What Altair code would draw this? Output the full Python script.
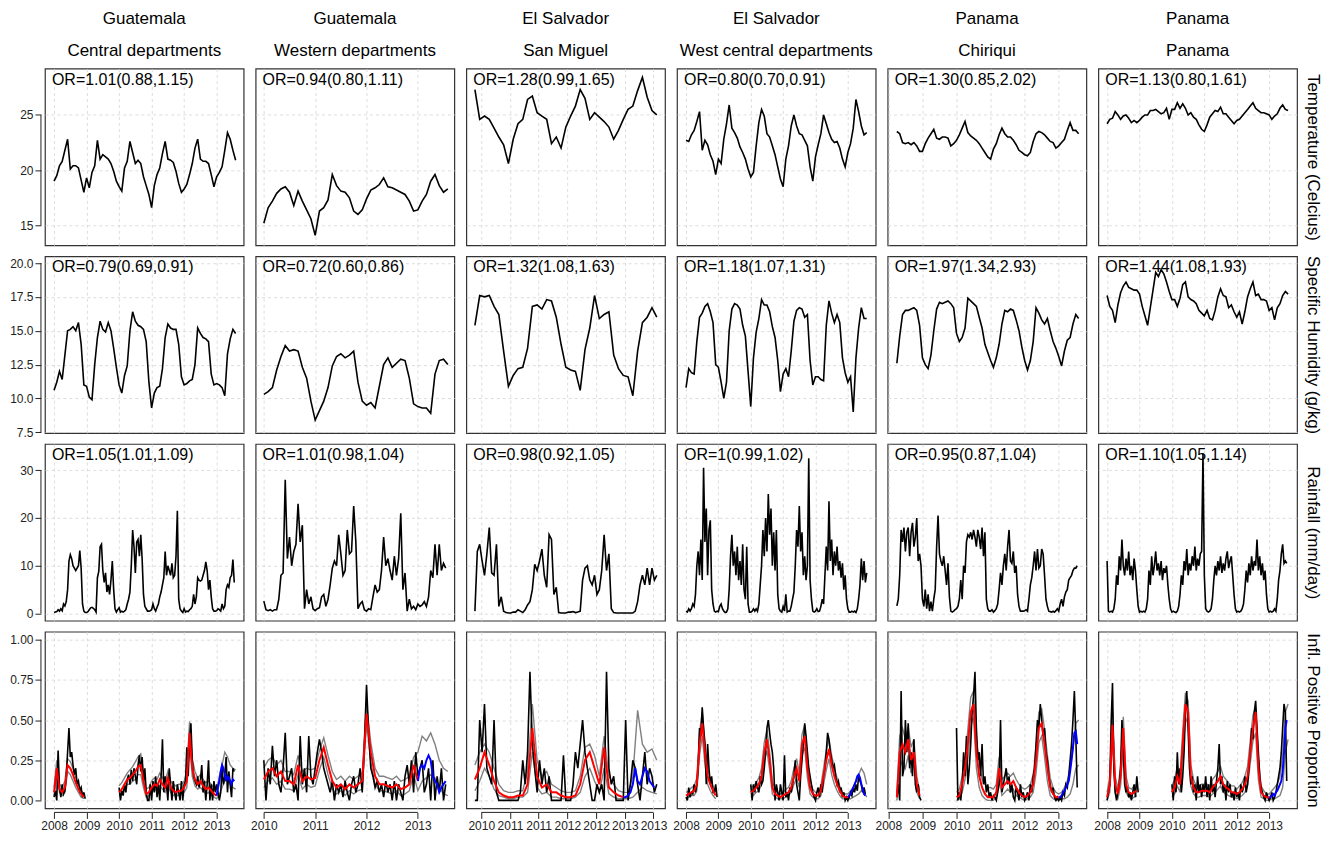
import altair as alt
import pandas as pd

FONT = "Liberation Sans"
GRID = "#d4d4d4"
AXC = "#222222"
W, H = 199, 177

HEAD1 = ["Guatemala", "Guatemala", "El Salvador", "El Salvador", "Panama", "Panama"]
HEAD2 = ["Central departments", "Western departments", "San Miguel",
         "West central departments", "Chiriqui", "Panama"]
ROW_TITLES = ["Temperature (Celcius)", "Specific Humidity (g/kg)",
              "Rainfall (mm/day)", "Infl. Positive Proportion"]

OR_TEMP = ["OR=1.01(0.88,1.15)", "OR=0.94(0.80,1.11)", "OR=1.28(0.99,1.65)",
           "OR=0.80(0.70,0.91)", "OR=1.30(0.85,2.02)", "OR=1.13(0.80,1.61)"]
OR_HUM = ["OR=0.79(0.69,0.91)", "OR=0.72(0.60,0.86)", "OR=1.32(1.08,1.63)",
          "OR=1.18(1.07,1.31)", "OR=1.97(1.34,2.93)", "OR=1.44(1.08,1.93)"]
OR_RAIN = ["OR=1.05(1.01,1.09)", "OR=1.01(0.98,1.04)", "OR=0.98(0.92,1.05)",
           "OR=1(0.99,1.02)", "OR=0.95(0.87,1.04)", "OR=1.10(1.05,1.14)"]

X_DOMAIN = [[2007.72, 2013.83], [2009.84, 2013.71], [2010.24, 2013.70],
            [2007.72, 2013.86], [2007.98, 2013.81], [2007.73, 2013.86]]
X_TICKS = [[2008, 2009, 2010, 2011, 2012, 2013], [2010, 2011, 2012, 2013],
           [2010.5, 2011, 2011.5, 2012, 2012.5, 2013, 2013.5],
           [2008, 2009, 2010, 2011, 2012, 2013], [2008, 2009, 2010, 2011, 2012, 2013],
           [2008, 2009, 2010, 2011, 2012, 2013]]
Y_DOMAIN = [[13.2, 29.2], [7.45, 20.5], [-1.5, 35.5], [-0.05, 1.05]]
Y_TICKS = [[15, 20, 25], [7.5, 10, 12.5, 15, 17.5, 20], [0, 10, 20, 30],
           [0, 0.25, 0.5, 0.75, 1.0]]
Y_FMT = ["d", ".1f", "d", ".2f"]

# series start (decimal year) per column
START = [2008.0, 2010.0, 2010.39, 2008.0, 2008.25, 2008.0]
BLUE_START = [2013.0, 2013.0, 2012.973, 2013.0, 2013.0, 2013.0]

# ---------- Temperature (monthly) ----------
T_GC = [19.0,19.5,20.4,20.8,21.8,22.8,20.1,20.4,20.4,20.2,19.1,18.0,
        19.3,18.4,19.8,20.4,22.7,21.0,21.4,21.2,21.0,20.6,19.9,19.0,
        18.5,18.1,20.2,20.8,22.6,21.6,20.6,20.9,20.6,19.4,18.6,17.8,
        16.6,18.6,19.6,20.2,21.5,22.6,21.0,20.9,20.7,19.9,18.8,18.0,
        18.3,18.7,19.6,20.6,22.0,22.8,21.0,20.8,20.8,20.6,19.6,18.5,
        19.4,19.8,20.3,21.8,23.4,22.8,21.8,20.9]
T_GW = [15.2,16.6,17.2,17.9,18.3,18.5,18.0,16.8,18.1,17.2,16.4,15.6,
        14.1,16.3,16.6,17.3,19.6,18.6,18.1,18.0,17.5,16.3,16.0,16.4,
        17.4,18.2,18.4,18.7,19.3,18.5,18.4,18.2,18.0,17.8,17.2,16.3,
        16.4,17.2,17.8,19.0,19.6,18.6,18.0,18.3]
T_SS = [27.3,24.6,24.9,24.6,23.8,23.0,22.3,20.6,22.8,24.2,24.6,26.4,26.7,
        25.2,24.9,24.6,22.4,23.0,22.0,23.9,24.9,25.8,27.3,26.5,24.6,25.2,
        24.8,24.4,23.9,22.8,23.6,24.6,25.5,25.8,27.2,28.4,26.6,25.4,25.0]
T_SW = [22.7,22.6,23.2,23.6,24.4,25.3,21.8,22.7,22.3,21.4,20.8,19.6,
        21.0,20.6,22.8,24.2,25.9,23.8,23.4,22.9,22.1,21.6,21.0,20.1,
        19.4,19.8,22.2,24.3,25.5,24.9,23.3,23.0,22.2,21.4,20.3,19.2,
        18.5,21.0,22.2,24.0,25.0,24.0,23.3,23.2,22.7,22.2,20.3,19.0,
        21.2,22.3,23.3,25.0,24.2,23.4,22.8,22.5,22.6,22.0,21.0,20.3,
        21.6,22.4,23.8,26.4,25.3,24.0,23.2,23.4]
T_PC = [23.5,23.3,22.5,22.4,22.5,22.3,22.5,22.2,21.7,21.7,22.4,22.9,
        23.3,23.7,22.9,22.8,23.0,23.0,22.9,22.2,22.4,22.7,23.2,23.8,
        24.4,23.4,23.1,22.9,22.7,22.4,22.0,21.6,21.2,21.0,21.9,22.4,
        23.2,23.8,23.3,23.0,23.0,22.7,22.3,21.8,21.6,21.4,21.3,21.6,
        22.6,23.3,23.5,23.4,23.2,22.9,22.6,22.5,22.0,22.2,22.5,22.8,
        23.6,24.3,23.6,23.6,23.3]
T_PP = [24.2,24.6,24.7,25.3,25.0,24.6,24.9,25.0,24.7,24.3,24.5,24.3,
        24.5,24.8,25.0,25.0,25.4,25.4,25.5,25.3,25.1,25.2,25.6,24.6,
        25.5,25.5,26.1,25.6,26.0,25.6,25.0,25.2,24.8,24.6,24.1,23.7,
        23.5,24.1,24.8,25.1,25.4,25.3,25.7,25.1,25.1,24.8,24.5,24.2,
        24.5,24.6,24.9,25.2,25.5,25.8,26.1,25.6,25.4,25.2,25.2,25.1,
        25.0,24.6,24.9,25.1,25.6,25.9,25.5,25.4]

# ---------- Specific humidity (monthly) ----------
H_GC = [10.6,11.2,12.0,11.4,13.2,15.0,15.1,15.3,15.0,15.6,14.0,11.0,
        10.9,10.1,9.9,12.5,14.5,15.7,15.1,14.9,15.6,15.0,13.7,12.3,
        11.0,10.4,11.7,12.4,15.0,16.4,15.7,15.4,15.3,15.1,14.2,11.2,
        9.3,10.4,10.8,10.9,12.2,14.5,15.5,15.2,15.1,15.1,14.0,11.6,
        11.0,11.1,11.3,11.4,12.5,15.2,14.8,14.5,14.4,14.2,11.8,11.0,
        11.1,11.0,10.8,10.2,13.3,14.4,15.1,14.8]
H_GW = [10.3,10.5,10.8,12.1,13.1,13.9,13.5,13.6,13.5,12.3,11.5,9.8,
        8.4,9.1,9.8,10.8,12.4,13.1,13.3,13.0,13.2,13.5,11.2,9.8,
        9.5,9.7,9.3,10.9,12.5,13.0,12.3,12.6,12.9,12.8,11.5,9.6,
        9.4,9.3,9.3,8.9,11.8,12.8,12.9,12.5]
H_SS = [15.4,17.6,17.5,17.6,16.8,16.2,13.5,10.9,11.7,12.2,12.3,13.7,16.8,
        16.9,16.6,17.3,17.2,16.0,14.0,12.3,12.1,12.0,10.6,13.6,15.2,17.6,
        15.9,16.2,16.4,13.2,12.2,11.7,11.6,10.2,13.5,15.6,16.0,16.7,16.0]
H_SW = [10.8,12.2,11.9,11.8,14.2,16.0,16.3,16.8,17.0,16.4,15.6,12.5,
        12.3,11.2,10.0,11.2,15.0,16.6,17.0,16.9,16.6,15.4,14.6,12.0,
        9.4,13.0,14.9,15.9,17.3,16.9,16.9,16.4,15.3,14.5,12.8,10.5,
        11.8,12.2,11.6,13.5,15.7,16.5,16.7,16.6,16.0,16.2,12.8,11.0,
        11.6,11.6,11.4,11.3,15.4,17.2,16.3,15.6,16.2,15.6,13.0,11.9,
        11.2,11.6,9.0,13.0,15.2,16.7,15.9,15.9]
H_PC = [12.6,14.6,16.2,16.5,16.5,16.6,16.7,16.5,15.4,13.0,12.5,12.2,
        13.2,15.0,16.6,17.1,17.0,17.1,17.2,17.0,16.7,14.8,14.2,14.5,
        15.2,17.4,17.2,17.0,16.8,16.0,15.2,14.0,13.4,12.8,12.3,13.0,
        14.0,15.5,16.5,16.4,16.6,16.5,15.8,15.0,13.8,12.8,12.1,12.8,
        14.2,16.7,16.3,15.8,15.5,15.9,15.0,14.2,13.7,13.1,12.4,13.5,
        14.3,14.5,15.5,16.2,15.9]
H_PP = [17.6,16.8,16.5,15.6,16.9,17.8,18.3,18.6,18.2,18.1,18.0,18.0,
        17.7,16.8,16.1,15.4,16.7,18.0,19.3,19.0,19.5,19.2,18.6,17.9,
        17.3,17.3,16.8,17.4,18.4,18.6,17.5,17.3,17.2,17.0,16.5,16.3,
        16.1,16.5,15.9,15.8,16.5,17.5,18.1,17.6,17.5,16.7,16.9,16.4,
        16.0,16.4,15.5,16.4,17.5,18.1,18.6,17.6,17.7,17.3,17.3,17.2,
        16.5,16.7,15.8,16.7,17.0,17.6,17.9,17.7]

# ---------- Rainfall (semi-monthly) ----------
R_GC = [0.2,0.3,0.4,0.8,0.5,1.0,0.6,2.0,1.6,2.5,5.0,11.0,12.3,11.5,10.0,9.5,9.0,9.5,10.0,13.2,9.5,2.0,0.5,0.2,
        0.2,0.4,0.8,1.2,1.3,1.1,0.8,0.3,7.5,8.8,14.0,14.5,9.0,6.5,8.5,4.5,6.0,4.0,7.0,11.0,5.0,1.0,0.3,0.8,
        1.2,0.3,0.5,0.3,0.5,0.8,2.0,3.0,4.5,10.0,17.5,14.0,8.5,15.0,15.5,12.0,16.5,11.5,4.0,1.5,1.0,0.5,0.5,0.6,
        0.8,2.0,1.0,0.5,1.3,2.0,3.5,4.5,6.0,7.5,13.0,8.0,10.0,9.0,8.0,10.5,7.5,8.0,12.0,21.5,3.0,1.0,0.5,0.2,
        1.0,0.3,0.5,0.4,0.8,1.0,1.5,4.0,2.0,3.5,7.5,7.0,6.8,7.0,8.0,9.0,10.8,9.0,5.0,7.0,3.5,1.0,0.5,0.5,
        0.6,1.0,0.8,0.5,2.0,1.0,1.5,5.0,6.0,5.5,7.5,8.0,11.3,6.5]
R_GW = [2.6,0.8,0.6,0.8,0.5,0.8,0.8,3.0,8.0,8.5,28.0,11.5,16.0,10.0,13.0,14.5,23.0,15.0,18.5,1.0,5.0,2.0,3.5,1.0,
        0.6,1.0,1.2,3.5,4.0,1.5,3.0,6.0,9.5,11.0,10.0,16.5,12.5,8.0,9.0,17.5,12.5,13.0,22.5,15.0,1.0,2.0,2.5,0.8,
        0.5,1.0,0.8,3.5,6.0,4.5,5.0,9.0,16.0,10.0,11.5,9.0,7.0,12.0,8.0,11.5,21.0,5.0,8.5,0.5,3.0,1.0,1.5,0.8,
        2.0,1.5,1.8,2.5,1.5,3.5,9.0,7.5,14.5,8.0,14.5,9.0,10.5,9.5]
R_SS = [0.5,13.0,14.5,11.0,8.0,12.5,18.0,8.5,8.0,14.5,1.5,3.5,0.5,0.2,0.1,0.1,0.3,0.3,0.8,0.5,0.2,0.8,1.8,2.5,
        5.0,10.3,9.0,11.0,13.5,8.0,5.5,16.5,15.5,4.0,5.5,0.2,0.1,0.1,0.1,0.3,0.3,0.4,0.2,0.3,0.5,7.0,9.5,10.0,
        7.0,6.0,8.0,4.0,5.0,9.0,16.5,9.0,12.5,1.0,0.2,0.1,0.1,0.1,0.1,0.1,0.1,0.1,0.1,0.5,2.5,6.0,8.0,6.0,
        9.5,6.0,9.5,7.0,8.0]
R_SW = [0.5,0.3,1.0,0.5,1.0,2.0,1.5,4.0,10.0,13.0,8.0,15.5,7.0,30.5,15.0,22.0,8.0,17.5,19.5,5.0,2.0,0.5,0.3,0.5,
        0.4,1.5,2.0,1.0,0.5,0.2,0.3,1.0,5.0,12.0,16.5,10.0,13.0,8.0,14.0,7.0,11.0,6.0,14.5,5.0,3.0,14.0,2.0,0.3,
        0.3,0.5,1.0,0.5,1.0,0.5,2.0,6.0,10.0,17.5,12.0,20.0,13.0,25.0,16.5,22.0,10.0,17.0,9.0,17.5,4.0,1.0,0.5,0.3,
        1.5,0.5,4.0,0.3,0.5,0.5,1.5,3.0,4.5,10.0,17.5,14.0,22.5,13.0,17.0,8.0,12.0,7.0,10.0,32.5,7.0,3.0,0.5,0.3,
        0.5,1.0,0.4,0.5,1.5,3.0,2.0,8.0,14.0,9.0,23.5,11.0,15.5,8.0,13.0,10.0,14.0,9.0,11.0,7.5,10.5,5.0,8.0,3.0,
        1.0,0.3,0.3,0.5,0.3,0.5,0.2,1.0,3.0,6.0,11.5,7.0,11.0,6.5,8.5]
R_PC = [1.6,3.0,8.0,17.5,15.0,18.0,13.0,17.0,18.0,12.0,17.0,19.0,14.0,16.0,20.0,11.0,12.5,10.0,3.0,1.5,5.0,1.0,4.0,0.5,
        2.5,0.5,3.0,5.0,14.0,20.5,12.5,11.0,10.0,12.0,9.0,6.0,10.5,3.5,0.5,0.3,0.5,0.8,1.0,1.5,3.0,7.0,3.0,10.0,
        8.5,15.0,16.5,16.0,17.0,15.5,17.5,16.0,14.0,17.5,16.0,13.5,18.0,12.0,17.0,3.0,1.0,0.5,0.5,0.8,0.3,0.6,1.0,2.0,
        5.0,8.5,6.0,10.0,12.5,9.0,14.0,17.5,11.0,10.5,13.0,8.5,10.0,4.0,1.5,0.5,0.5,0.5,0.6,0.8,0.5,3.0,6.0,7.5,
        10.0,13.0,9.0,13.5,9.5,10.0,13.5,12.5,8.0,3.0,1.5,0.5,0.4,0.3,0.5,0.3,0.6,1.0,0.5,2.0,3.0,1.5,3.5,4.5,
        5.0,7.0,7.5,8.0,9.0,9.5,9.5,10.0]
R_PP = [11.0,0.5,0.3,0.5,0.3,1.0,3.0,8.0,6.0,12.0,9.0,15.5,10.0,8.0,11.5,9.0,13.0,8.0,10.0,7.0,11.5,9.0,5.0,1.5,
        0.3,0.5,0.3,0.5,0.3,1.0,3.0,9.0,6.0,12.0,8.0,10.0,13.0,9.0,10.5,8.0,11.0,7.0,9.5,8.5,10.0,6.0,3.0,1.0,
        0.3,0.5,0.3,0.2,0.5,1.5,4.0,8.0,6.0,11.0,9.0,13.5,8.0,10.5,9.0,12.0,10.0,14.0,9.0,11.5,10.0,12.5,13.0,33.5,
        8.0,1.0,0.5,0.3,0.5,1.0,3.0,7.0,10.0,8.0,11.0,9.0,12.0,8.5,10.5,9.0,11.5,13.0,9.5,11.0,12.0,8.0,4.0,1.0,
        0.3,0.5,0.3,0.5,1.0,2.0,5.0,9.0,6.5,10.5,8.0,12.0,9.0,11.0,10.0,15.5,9.0,12.0,8.0,10.5,7.0,9.0,4.0,1.0,
        0.3,0.5,0.3,0.5,1.0,0.5,3.0,7.0,9.0,12.5,14.5,10.5,11.0,10.5]

# ---------- Influenza positive proportion ----------
# observed (black, semi-monthly), fitted (red, monthly), bounds (grey, monthly), forecast (blue, semi-monthly)
GAP24 = [None] * 24
GAP12 = [None] * 12
I_GC_B = ([0.02,0.06,0.0,0.31,0.08,0.02,0.1,0.04,0.06,0.15,0.3,0.45,0.27,0.3,0.22,0.16,0.2,0.1,0.12,0.06,0.08,0.02,0.05,0.01]
          + GAP24 +
          [0.08,0.0,0.06,0.03,0.1,0.05,0.13,0.16,0.1,0.19,0.12,0.2,0.15,0.1,0.22,0.28,0.18,0.27,0.12,0.2,0.05,0.0,0.0,0.1,
           0.0,0.12,0.05,0.15,0.02,0.1,0.0,0.15,0.38,0.05,0.15,0.1,0.0,0.2,0.1,0.0,0.12,0.05,0.0,0.1,0.05,0.0,0.12,0.0,
           0.1,0.12,0.33,0.15,0.38,0.48,0.25,0.15,0.12,0.1,0.15,0.08,0.12,0.22,0.05,0.12,0.0,0.1,0.25,0.0,0.1,0.0,0.12,0.05,
           0.1,0.05,0.0,0.05,0.2,0.1,0.15,0.27,0.05,0.18,0.1,0.02,0.2,0.18])
I_GC_R = ([0.05,0.2,0.07,0.05,0.08,0.22,0.2,0.16,0.11,0.07,0.04,0.02] + GAP12 +
          [0.05,0.07,0.1,0.13,0.14,0.16,0.18,0.21,0.22,0.12,0.04,0.05,
           0.08,0.1,0.09,0.13,0.1,0.08,0.14,0.08,0.06,0.05,0.06,0.06,
           0.08,0.12,0.42,0.2,0.13,0.1,0.12,0.09,0.07,0.08,0.06,0.04, 0.03])
I_GC_U = ([0.08,0.25,0.1,0.08,0.12,0.26,0.24,0.2,0.14,0.1,0.06,0.04] + GAP12 +
          [0.09,0.11,0.14,0.17,0.19,0.21,0.24,0.27,0.29,0.17,0.07,0.08,
           0.12,0.14,0.13,0.17,0.14,0.12,0.18,0.12,0.1,0.09,0.1,0.1,
           0.12,0.17,0.49,0.26,0.18,0.14,0.16,0.13,0.11,0.12,0.1,0.08,
           0.07,0.15,0.22,0.3,0.27,0.22,0.2,0.19])
I_GC_L = ([0.03,0.16,0.05,0.03,0.05,0.18,0.16,0.12,0.08,0.05,0.02,0.01] + GAP12 +
          [0.03,0.04,0.07,0.1,0.1,0.12,0.13,0.16,0.16,0.08,0.02,0.03,
           0.05,0.07,0.06,0.09,0.07,0.05,0.1,0.05,0.03,0.03,0.03,0.04,
           0.05,0.08,0.36,0.15,0.09,0.07,0.08,0.06,0.04,0.05,0.03,0.02,
           0.01,0.04,0.08,0.12,0.14,0.1,0.08,0.07])
I_GC_F = [0.03,0.08,0.12,0.18,0.22,0.2,0.16,0.12,0.15,0.14,0.12,0.1,0.13,0.12]

I_GW_B = [0.25,0.0,0.2,0.1,0.34,0.15,0.25,0.1,0.05,0.2,0.42,0.1,0.15,0.2,0.05,0.1,0.0,0.4,0.1,0.2,0.05,0.4,0.15,0.1,
          0.2,0.3,0.38,0.3,0.2,0.15,0.1,0.05,0.12,0.0,0.1,0.05,0.1,0.02,0.12,0.05,0.0,0.1,0.15,0.05,0.1,0.2,0.05,0.35,
          0.72,0.42,0.2,0.15,0.08,0.12,0.05,0.1,0.02,0.12,0.05,0.1,0.0,0.12,0.0,0.1,0.05,0.0,0.15,0.22,0.1,0.25,0.05,0.3,
          0.15,0.2,0.25,0.05,0.1,0.2,0.0,0.25,0.0,0.15,0.05,0.2,0.0,0.1]
I_GW_R = [0.13,0.18,0.2,0.15,0.18,0.12,0.12,0.1,0.22,0.12,0.15,0.13,
          0.14,0.25,0.33,0.22,0.12,0.08,0.1,0.07,0.1,0.08,0.1,0.12,
          0.54,0.3,0.15,0.1,0.1,0.09,0.08,0.1,0.07,0.08,0.1,0.22, 0.12]
I_GW_U = [0.2,0.25,0.27,0.22,0.25,0.18,0.18,0.16,0.28,0.18,0.2,0.19,
          0.2,0.31,0.39,0.28,0.18,0.13,0.15,0.12,0.15,0.13,0.15,0.17,
          0.6,0.36,0.2,0.15,0.15,0.14,0.13,0.15,0.12,0.13,0.15,0.27,
          0.3,0.4,0.37,0.42,0.35,0.25,0.2,0.18]
I_GW_L = [0.08,0.12,0.14,0.1,0.12,0.07,0.07,0.06,0.16,0.07,0.1,0.08,
          0.09,0.19,0.27,0.16,0.07,0.04,0.06,0.03,0.06,0.04,0.06,0.07,
          0.48,0.24,0.1,0.06,0.06,0.05,0.04,0.06,0.03,0.04,0.06,0.16,
          0.06,0.12,0.14,0.16,0.14,0.08,0.04,0.03]
I_GW_F = [0.12,0.2,0.22,0.2,0.25,0.28,0.25,0.15,0.12,0.1,0.05,0.08,0.1,0.12]

I_SS_B = [0.0,0.0,0.5,0.3,0.6,0.2,0.15,0.1,0.5,0.05,0.0,0.0,0.0,0.0,0.0,0.0,0.0,0.0,0.0,0.05,0.25,0.1,0.3,0.8,
          0.35,0.2,0.05,0.25,0.1,0.2,0.05,0.15,0.0,0.0,0.0,0.0,0.0,0.28,0.0,0.0,0.0,0.1,0.3,0.2,0.35,0.5,0.3,0.2,
          0.1,0.0,0.0,0.1,0.05,0.1,0.0,0.8,0.2,0.1,0.15,0.0,0.0,0.0,0.0,0.5,0.0,0.1,0.25,0.2,0.1,0.0,0.15,0.3,
          0.1,0.2,0.15,0.05,0.1]
I_SS_R = [0.13,0.2,0.3,0.22,0.12,0.05,0.03,0.02,0.02,0.03,0.03,0.1,
          0.45,0.15,0.08,0.1,0.05,0.05,0.03,0.02,0.02,0.03,0.1,0.25,
          0.3,0.2,0.1,0.33,0.08,0.05,0.03,0.02]
I_SS_U = [0.22,0.3,0.35,0.3,0.2,0.1,0.06,0.05,0.05,0.06,0.06,0.18,
          0.6,0.25,0.15,0.18,0.1,0.08,0.06,0.05,0.05,0.06,0.15,0.33,
          0.35,0.28,0.15,0.4,0.15,0.1,0.06,0.05,0.05,0.15,0.56,0.35,
          0.3,0.32,0.25]
I_SS_L = [0.06,0.12,0.2,0.15,0.07,0.03,0.02,0.01,0.01,0.02,0.02,0.05,
          0.3,0.08,0.04,0.05,0.02,0.02,0.01,0.01,0.01,0.02,0.05,0.15,
          0.2,0.12,0.05,0.2,0.04,0.02,0.01,0.01,0.01,0.02,0.05,0.08,
          0.06,0.05,0.04]
I_SS_F = [0.02,0.02,0.03,0.05,0.1,0.2,0.12,0.1,0.15,0.2,0.18,0.12,0.1,0.08]

I_SW_B = ([0.02,0.0,0.08,0.02,0.05,0.04,0.1,0.05,0.1,0.2,0.45,0.4,0.58,0.45,0.35,0.1,0.35,0.2,0.1,0.15,0.05,0.05,0.1,0.02]
          + GAP24 +
          [0.1,0.0,0.1,0.05,0.12,0.08,0.05,0.15,0.1,0.12,0.2,0.3,0.45,0.5,0.42,0.35,0.3,0.2,0.0,0.1,0.05,0.0,0.1,0.05,
           0.0,0.28,0.02,0.05,0.0,0.08,0.05,0.1,0.15,0.25,0.1,0.05,0.0,0.15,0.25,0.35,0.48,0.4,0.3,0.2,0.15,0.1,0.05,0.02,
           0.0,0.05,0.08,0.02,0.1,0.05,0.15,0.2,0.3,0.42,0.38,0.3,0.25,0.2,0.22,0.15,0.1,0.12,0.05,0.08,0.02,0.05,0.0,0.02,
           0.0,0.02,0.05,0.03,0.08,0.05,0.1,0.06,0.15,0.12,0.1,0.05,0.08,0.04])
I_SW_R = ([0.03,0.04,0.05,0.06,0.1,0.35,0.48,0.3,0.15,0.1,0.06,0.03] + GAP12 +
          [0.05,0.06,0.08,0.1,0.15,0.3,0.38,0.25,0.08,0.04,0.03,0.02,
           0.03,0.04,0.05,0.08,0.15,0.2,0.12,0.35,0.4,0.2,0.08,0.04,
           0.03,0.03,0.06,0.15,0.25,0.32,0.22,0.15,0.1,0.06,0.03,0.02, 0.02])
I_SW_U = ([0.05,0.06,0.08,0.09,0.14,0.42,0.55,0.36,0.2,0.13,0.09,0.05] + GAP12 +
          [0.08,0.09,0.11,0.14,0.2,0.36,0.44,0.3,0.12,0.07,0.05,0.04,
           0.05,0.07,0.08,0.12,0.2,0.26,0.17,0.41,0.47,0.26,0.12,0.07,
           0.05,0.05,0.09,0.2,0.31,0.38,0.28,0.2,0.14,0.09,0.05,0.04,
           0.04,0.06,0.08,0.12,0.16,0.2,0.17,0.1])
I_SW_L = ([0.01,0.02,0.03,0.03,0.06,0.28,0.4,0.23,0.1,0.06,0.03,0.01] + GAP12 +
          [0.02,0.03,0.05,0.06,0.1,0.24,0.31,0.19,0.04,0.02,0.01,0.01,
           0.01,0.02,0.03,0.05,0.1,0.14,0.08,0.28,0.33,0.14,0.04,0.02,
           0.01,0.01,0.03,0.1,0.19,0.26,0.16,0.1,0.06,0.03,0.01,0.01,
           0.01,0.01,0.02,0.03,0.04,0.06,0.05,0.02])
I_SW_F = [0.02,0.03,0.04,0.06,0.08,0.1,0.12,0.15,0.16,0.14,0.1,0.07,0.04,0.03]

I_PC_B = ([0.02,0.1,0.0,0.68,0.15,0.2,0.5,0.3,0.48,0.2,0.3,0.15,0.38,0.1,0.05,0.1,0.02,0.0]
          + GAP24 +
          [0.45,0.0,0.05,0.0,0.1,0.3,0.15,0.4,0.1,0.2,0.35,0.55,0.65,0.8,0.45,0.25,0.3,0.15,0.35,0.1,0.15,0.05,0.1,0.02,
           0.05,0.0,0.03,0.02,0.0,0.05,0.1,0.5,0.05,0.1,0.15,0.2,0.1,0.15,0.05,0.1,0.02,0.0,0.08,0.05,0.0,0.1,0.02,0.05,
           0.0,0.02,0.05,0.0,0.1,0.05,0.15,0.2,0.35,0.5,0.45,0.6,0.5,0.4,0.45,0.3,0.25,0.15,0.1,0.05,0.08,0.02,0.0,0.02,
           0.0,0.02,0.0,0.05,0.03,0.1,0.08,0.15,0.25,0.35,0.5,0.68,0.4,0.08])
I_PC_R = ([0.02,0.3,0.35,0.3,0.38,0.25,0.3,0.1,0.03] + GAP12 +
          [0.02,0.03,0.1,0.2,0.35,0.55,0.6,0.3,0.15,0.08,0.04,0.02,
           0.02,0.02,0.05,0.2,0.08,0.1,0.12,0.1,0.12,0.08,0.05,0.03,
           0.02,0.03,0.05,0.1,0.25,0.45,0.48,0.35,0.2,0.08,0.04,0.02, 0.02])
I_PC_U = ([0.05,0.4,0.45,0.38,0.46,0.33,0.38,0.15,0.06] + GAP12 +
          [0.05,0.07,0.15,0.27,0.44,0.64,0.68,0.4,0.22,0.13,0.1,0.08,
           0.08,0.07,0.1,0.27,0.13,0.15,0.17,0.15,0.17,0.13,0.1,0.08,
           0.07,0.08,0.1,0.16,0.33,0.55,0.57,0.44,0.28,0.14,0.08,0.05,
           0.04,0.05,0.08,0.12,0.2,0.32,0.48,0.5])
I_PC_L = ([0.0,0.2,0.25,0.2,0.28,0.17,0.22,0.05,0.01] + GAP12 +
          [0.0,0.01,0.05,0.13,0.26,0.46,0.52,0.2,0.08,0.03,0.01,0.0,
           0.0,0.0,0.02,0.13,0.03,0.05,0.07,0.05,0.07,0.03,0.02,0.01,
           0.0,0.01,0.02,0.05,0.17,0.36,0.4,0.27,0.12,0.03,0.01,0.0,
           0.0,0.01,0.01,0.02,0.04,0.1,0.2,0.22])
I_PC_F = [0.02,0.02,0.03,0.05,0.06,0.08,0.1,0.12,0.18,0.25,0.33,0.42,0.43,0.35]

I_PP_B = ([0.0,0.05,0.1,0.48,0.73,0.2,0.05,0.0,0.05,0.1,0.2,0.5,0.3,0.1,0.05,0.08,0.02,0.05,0.0,0.05,0.1,0.02,0.15,0.05]
          + GAP24 +
          [0.1,0.0,0.15,0.05,0.3,0.1,0.2,0.05,0.15,0.3,0.55,0.68,0.45,0.2,0.1,0.15,0.05,0.1,0.0,0.15,0.05,0.1,0.02,0.1,
           0.05,0.15,0.02,0.1,0.0,0.15,0.05,0.1,0.02,0.12,0.2,0.35,0.1,0.15,0.05,0.1,0.0,0.12,0.05,0.1,0.02,0.05,0.0,0.08,
           0.02,0.05,0.0,0.1,0.05,0.08,0.15,0.05,0.1,0.2,0.3,0.45,0.38,0.55,0.62,0.45,0.3,0.15,0.08,0.05,0.02,0.0,0.05,0.02,
           0.0,0.02,0.05,0.0,0.02,0.05,0.1,0.15,0.2,0.3,0.45,0.6,0.55,0.12])
I_PP_R = ([0.02,0.1,0.47,0.1,0.04,0.15,0.45,0.1,0.05,0.04,0.05,0.06] + GAP12 +
          [0.05,0.08,0.15,0.1,0.35,0.6,0.55,0.15,0.08,0.05,0.05,0.06,
           0.06,0.06,0.05,0.08,0.1,0.12,0.15,0.1,0.08,0.07,0.05,0.05,
           0.04,0.05,0.07,0.1,0.15,0.3,0.45,0.55,0.2,0.05,0.03,0.02, 0.02])
I_PP_U = ([0.05,0.15,0.55,0.15,0.07,0.22,0.52,0.15,0.08,0.07,0.09,0.1] + GAP12 +
          [0.09,0.13,0.21,0.15,0.43,0.67,0.62,0.22,0.13,0.09,0.09,0.1,
           0.1,0.1,0.09,0.13,0.15,0.18,0.21,0.15,0.13,0.11,0.09,0.09,
           0.07,0.09,0.11,0.15,0.21,0.37,0.53,0.58,0.27,0.09,0.06,0.04,
           0.04,0.06,0.08,0.1,0.15,0.28,0.55,0.6])
I_PP_L = ([0.0,0.05,0.38,0.05,0.01,0.09,0.37,0.05,0.02,0.01,0.02,0.03] + GAP12 +
          [0.02,0.04,0.09,0.05,0.27,0.52,0.47,0.09,0.04,0.02,0.02,0.03,
           0.03,0.03,0.02,0.04,0.05,0.07,0.09,0.05,0.04,0.03,0.02,0.02,
           0.01,0.02,0.03,0.05,0.09,0.23,0.37,0.42,0.13,0.02,0.01,0.0,
           0.0,0.01,0.01,0.02,0.03,0.08,0.3,0.38])
I_PP_F = [0.02,0.02,0.03,0.04,0.03,0.05,0.06,0.08,0.1,0.12,0.18,0.3,0.45,0.5]

TEMP = [T_GC, T_GW, T_SS, T_SW, T_PC, T_PP]
HUM = [H_GC, H_GW, H_SS, H_SW, H_PC, H_PP]
RAIN = [R_GC, R_GW, R_SS, R_SW, R_PC, R_PP]
FLU_OBS = [I_GC_B, I_GW_B, I_SS_B, I_SW_B, I_PC_B, I_PP_B]
FLU_FIT = [I_GC_R, I_GW_R, I_SS_R, I_SW_R, I_PC_R, I_PP_R]
FLU_UP = [I_GC_U, I_GW_U, I_SS_U, I_SW_U, I_PC_U, I_PP_U]
FLU_LO = [I_GC_L, I_GW_L, I_SS_L, I_SW_L, I_PC_L, I_PP_L]
FLU_FC = [I_GC_F, I_GW_F, I_SS_F, I_SW_F, I_PC_F, I_PP_F]


def series_df(start, step, values, name):
    recs, seg, prev = [], 0, False
    for i, v in enumerate(values):
        if v is None:
            if prev:
                seg += 1
            prev = False
            continue
        recs.append({"t": round(start + i * step, 4), "v": v, "seg": f"{name}{seg}"})
        prev = True
    return pd.DataFrame(recs)


def panel(r, c):
    xsc = alt.Scale(domain=X_DOMAIN[c], nice=False, zero=False)
    ysc = alt.Scale(domain=Y_DOMAIN[r], nice=False, zero=False)
    bottom = r == 3
    xaxis = alt.Axis(values=X_TICKS[c], grid=True, gridColor=GRID, gridDash=[3, 3],
                     gridWidth=0.8, domain=False, labels=bottom, ticks=bottom, title=None,
                     offset=4, tickSize=6, tickColor=AXC, labelPadding=2,
                     labelExpr="'' + floor(datum.value)", labelFlush=False,
                     labelOverlap=False, labelColor=AXC)
    if c == 0:
        yaxis = alt.Axis(values=Y_TICKS[r], format=Y_FMT[r], grid=True, gridColor=GRID,
                         gridDash=[3, 3], gridWidth=0.8, domain=False, offset=4,
                         tickSize=6, tickColor=AXC, labelPadding=2, labelFlush=False,
                         labelColor=AXC, title=None, minExtent=32)
    elif c == 5:
        yaxis = alt.Axis(values=Y_TICKS[r], orient="right", grid=True, gridColor=GRID,
                         gridDash=[3, 3], gridWidth=0.8, domain=False, labels=False,
                         ticks=False, title=ROW_TITLES[r], titlePadding=6)
    else:
        yaxis = alt.Axis(values=Y_TICKS[r], grid=True, gridColor=GRID, gridDash=[3, 3],
                         gridWidth=0.8, domain=False, labels=False, ticks=False, title=None)

    def line(df, color, width):
        return alt.Chart(df).mark_line(color=color, strokeWidth=width).encode(
            x=alt.X("t:Q", scale=xsc, axis=xaxis),
            y=alt.Y("v:Q", scale=ysc, axis=yaxis),
            detail="seg:N")

    layers = []
    if r < 3:
        vals = [TEMP, HUM, RAIN][r][c]
        step = 1 / 12 if r < 2 else 1 / 24
        layers.append(line(series_df(START[c], step, vals, "s"), "black", 1.6))
    else:
        layers.append(line(series_df(START[c], 1 / 12, FLU_UP[c], "u"), "#808080", 1.4))
        layers.append(line(series_df(START[c], 1 / 12, FLU_LO[c], "l"), "#808080", 1.4))
        layers.append(line(series_df(START[c], 1 / 24, FLU_OBS[c], "b"), "black", 1.6))
        layers.append(line(series_df(START[c], 1 / 12, FLU_FIT[c], "r"), "#ff0000", 2.0))
        layers.append(line(series_df(BLUE_START[c], 1 / 24, FLU_FC[c], "f"), "#0000ff", 2.0))

    if c == 0:
        ydf = pd.DataFrame({"lo": [min(Y_TICKS[r])], "hi": [max(Y_TICKS[r])]})
        layers.append(alt.Chart(ydf).mark_rule(color=AXC, strokeWidth=1).encode(
            x=alt.value(-4), y=alt.Y("lo:Q", scale=ysc, axis=yaxis), y2="hi:Q"))
    if bottom:
        xdf = pd.DataFrame({"lo": [min(X_TICKS[c])], "hi": [max(X_TICKS[c])]})
        layers.append(alt.Chart(xdf).mark_rule(color=AXC, strokeWidth=1).encode(
            y=alt.value(H + 4), x=alt.X("lo:Q", scale=xsc, axis=xaxis), x2="hi:Q"))
    if r < 3:
        txt = [OR_TEMP, OR_HUM, OR_RAIN][r][c]
        layers.append(alt.Chart(pd.DataFrame({"txt": [txt]})).mark_text(
            align="left", baseline="top", fontSize=16, font=FONT, color="black").encode(
            x=alt.value(7), y=alt.value(3), text="txt:N"))

    ch = alt.layer(*layers).properties(width=W, height=H)
    if r == 0:
        ch = ch.properties(title=alt.TitleParams(
            text=[HEAD1[c], HEAD2[c]], fontSize=17, fontWeight="normal", font=FONT,
            color="black", lineHeight=32, offset=9, anchor="middle"))
    return ch


cells = [panel(r, c) for r in range(4) for c in range(6)]

chart = alt.concat(*cells, columns=6, spacing={"row": 11, "column": 12},
                   bounds="flush").properties(padding=0).configure_view(
    stroke="#333333", strokeWidth=1.2).configure_axis(
    labelFont=FONT, labelFontSize=12, titleFont=FONT, titleFontSize=17,
    titleFontWeight="normal", titleColor="black")

chart.save("out.html", embed_options={"renderer": "svg", "actions": False})
